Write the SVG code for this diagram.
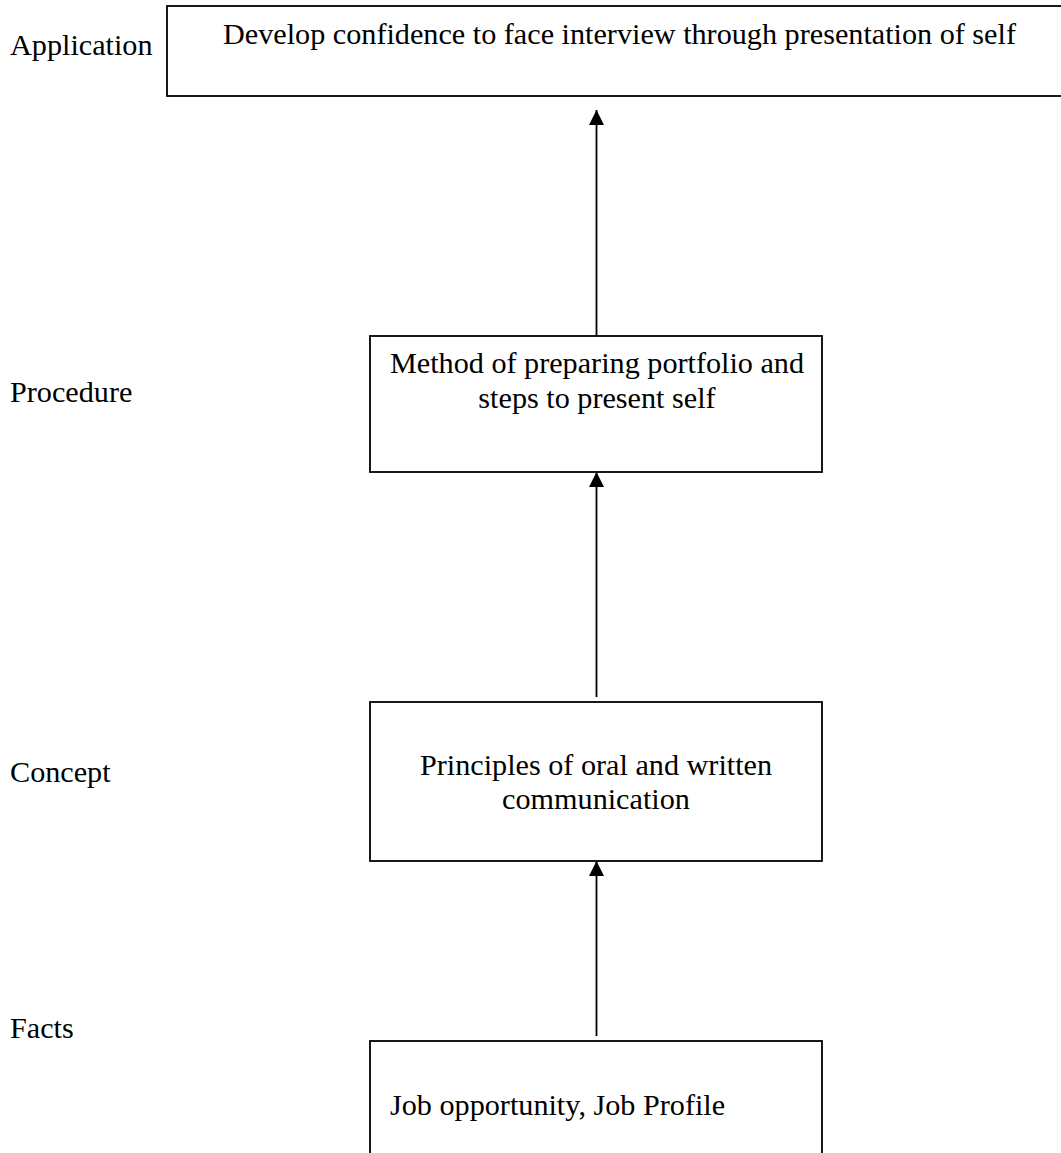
<svg xmlns="http://www.w3.org/2000/svg" width="1061" height="1153" viewBox="0 0 1061 1153">
<style>
  text { font-family: "Liberation Serif", "Times New Roman", serif; font-size: 30.2px; fill: #000; }
  .box { fill: #fff; stroke: #000; stroke-width: 1.8; }
  .conn { stroke: #000; stroke-width: 1.8; fill: none; }
  .mid { text-anchor: middle; }
</style>
<defs>
  <marker id="arr" markerUnits="userSpaceOnUse" markerWidth="16" markerHeight="16" viewBox="0 0 16 16" refX="15" refY="8" orient="auto">
    <path d="M0,0.5 L15,8 L0,15.5 Z" fill="#000"/>
  </marker>
</defs>
<rect width="1061" height="1153" fill="#fff"/>
<g id="labels">
  <text x="10" y="55">Application</text>
  <text x="10" y="402">Procedure</text>
  <text x="10" y="782">Concept</text>
  <text x="10" y="1038">Facts</text>
</g>
<g id="node-application">
  <rect class="box" x="167" y="6" width="910" height="90"/>
  <text x="223" y="44">Develop confidence to face interview through presentation of self</text>
</g>
<g id="node-procedure">
  <rect class="box" x="370" y="336" width="452" height="136"/>
  <text class="mid" x="597" y="373">Method of preparing portfolio and</text>
  <text class="mid" x="597" y="408">steps to present self</text>
</g>
<g id="node-concept">
  <rect class="box" x="370" y="702" width="452" height="159"/>
  <text class="mid" x="596" y="775">Principles of oral and written</text>
  <text class="mid" x="596" y="809">communication</text>
</g>
<g id="node-facts">
  <rect class="box" x="370" y="1041" width="452" height="130"/>
  <text x="390" y="1115">Job opportunity, Job Profile</text>
</g>
<g id="connectors">
  <line class="conn" x1="596.5" y1="336" x2="596.5" y2="110" marker-end="url(#arr)"/>
  <line class="conn" x1="596.5" y1="697" x2="596.5" y2="472" marker-end="url(#arr)"/>
  <line class="conn" x1="596.5" y1="1036" x2="596.5" y2="861" marker-end="url(#arr)"/>
</g>
</svg>
